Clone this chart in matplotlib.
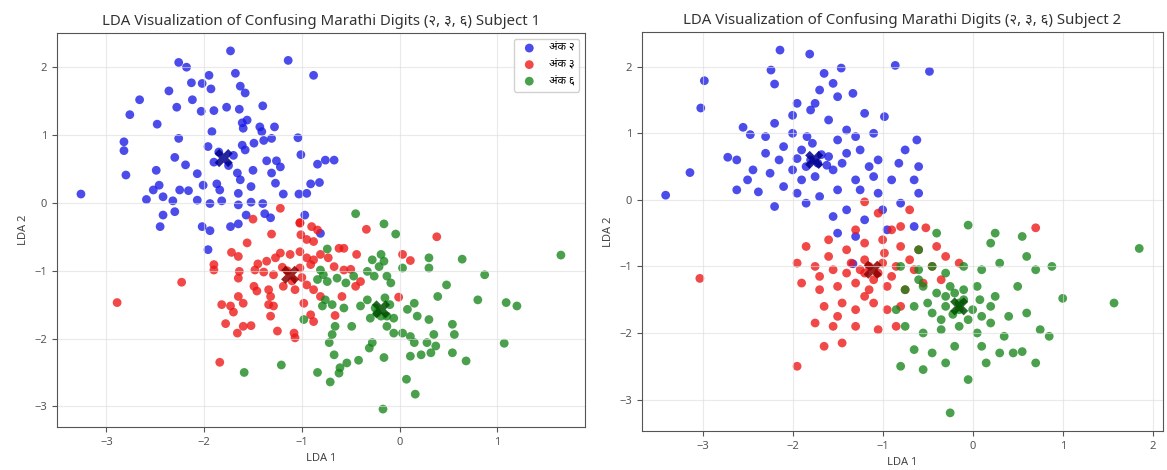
import matplotlib
matplotlib.use("Agg")
import matplotlib.pyplot as plt
import numpy as np

plt.rcParams['font.family'] = ['Noto Sans', 'DejaVu Sans']

labels = ['अंक २', 'अंक ३', 'अंक ६']
colors = ['#1a1ae6', '#ee1515', '#17851a']
dark = ['#00008b', '#8b0000', '#005000']
titles = ['LDA Visualization of Confusing Marathi Digits (२, ३, ६) Subject 1',
          'LDA Visualization of Confusing Marathi Digits (२, ३, ६) Subject 2']

# subject 1
s1_blue = [(-1.73, 2.24), (-1.14, 2.10), (-0.88, 1.88), (-2.26, 2.07), (-2.18, 2.00), (-1.95, 1.88),
           (-1.68, 1.91), (-2.13, 1.77), (-2.02, 1.76), (-1.93, 1.68), (-1.63, 1.72), (-1.58, 1.62),
           (-2.36, 1.65), (-2.66, 1.52), (-2.12, 1.52), (-2.28, 1.41), (-2.03, 1.35), (-1.90, 1.36),
           (-1.77, 1.41), (-1.64, 1.38), (-1.40, 1.43), (-2.76, 1.30), (-2.48, 1.16), (-1.61, 1.18),
           (-1.56, 1.22), (-1.60, 1.10), (-1.43, 1.12), (-1.41, 1.05), (-1.28, 1.12), (-1.92, 1.05),
           (-2.26, 0.95), (-2.82, 0.90), (-2.82, 0.77), (-1.61, 0.85), (-1.49, 0.88), (-1.39, 0.92),
           (-1.31, 0.95), (-1.04, 0.96), (-1.96, 0.83), (-1.58, 0.78), (-1.01, 0.71), (-2.30, 0.67),
           (-2.19, 0.56), (-1.36, 0.62), (-1.26, 0.62), (-1.22, 0.53), (-0.84, 0.57), (-2.80, 0.41),
           (-2.49, 0.48), (-2.07, 0.43), (-1.66, 0.44), (-1.50, 0.48), (-1.31, 0.44), (-2.01, 0.26),
           (-1.87, 0.28), (-1.63, 0.34), (-1.27, 0.29), (-0.91, 0.28), (-0.82, 0.30), (-2.46, 0.26),
           (-2.52, 0.19), (-2.25, 0.19), (-2.16, 0.18), (-1.84, 0.19), (-1.52, 0.24), (-3.26, 0.13),
           (-2.59, 0.05), (-2.42, 0.09), (-2.32, 0.03), (-2.07, 0.04), (-1.94, -0.01), (-1.82, 0.03),
           (-1.65, 0.14), (-1.65, -0.03), (-1.52, 0.01), (-1.40, -0.01), (-1.19, 0.13), (-1.03, 0.13),
           (-0.95, 0.14), (-2.30, -0.13), (-2.42, -0.18), (-1.57, -0.18), (-1.38, -0.16), (-1.32, -0.22),
           (-0.97, -0.18), (-2.45, -0.35), (-2.02, -0.35), (-1.73, -0.35), (-1.65, -0.31), (-1.94, -0.41),
           (-0.81, -0.45), (-1.96, -0.69), (-0.76, 0.63), (-0.67, 0.63), (-1.85, 0.75), (-1.75, 0.55),
           (-1.70, 0.70), (-1.90, 0.60)]
s1_red = [(-1.22, -0.08), (-1.50, -0.24), (-1.02, -0.29), (-1.02, -0.30), (-0.90, -0.35), (-0.84, -0.40),
          (-1.01, -0.47), (-0.95, -0.54), (-0.88, -0.57), (-1.31, -0.46), (-0.34, -0.39), (0.38, -0.50),
          (-1.56, -0.59), (-1.72, -0.73), (-1.65, -0.79), (-1.90, -0.91), (-1.90, -0.99), (-2.23, -1.17),
          (-1.45, -0.90), (-1.36, -0.86), (-1.27, -0.81), (-1.22, -0.74), (-1.12, -0.76), (-1.02, -0.72),
          (-0.95, -0.81), (-0.88, -0.84), (-0.81, -0.76), (-0.73, -0.81), (-0.62, -0.67), (-0.57, -0.67),
          (-0.44, -0.76), (0.03, -0.76), (0.11, -0.85), (-1.64, -1.01), (-1.65, -1.11), (-1.48, -0.99),
          (-1.39, -1.02), (-1.29, -1.06), (-1.02, -0.96), (-0.91, -0.91), (-0.67, -0.94), (-0.57, -0.99),
          (-0.50, -0.98), (-1.49, -1.23), (-1.46, -1.30), (-1.34, -1.28), (-1.32, -1.38), (-1.19, -1.23),
          (-1.07, -1.28), (-0.95, -1.21), (-0.88, -1.28), (-0.81, -1.38), (-0.59, -1.38), (-0.45, -1.23),
          (-0.40, -1.16), (-0.01, -1.39), (-1.82, -1.50), (-1.73, -1.52), (-1.65, -1.38), (-1.60, -1.48),
          (-1.70, -1.61), (-1.34, -1.50), (-1.29, -1.52), (-1.32, -1.67), (-0.98, -1.48), (-0.91, -1.65),
          (-0.88, -1.75), (-0.66, -1.66), (-1.78, -1.78), (-1.66, -1.92), (-1.60, -1.82), (-1.52, -1.81),
          (-1.25, -1.89), (-1.08, -1.92), (-1.07, -1.99), (-1.84, -2.35), (-2.89, -1.47),
          (-1.15, -1.00), (-1.10, -1.15), (-1.00, -1.10), (-1.20, -0.95)]
s1_green = [(-0.45, -0.16), (-0.16, -0.31), (-0.04, -0.46), (-0.74, -0.68), (-0.19, -0.76), (-0.28, -0.84),
            (-0.21, -0.94), (-0.16, -0.86), (-0.81, -0.99), (-0.78, -1.06), (-0.84, -1.13), (-0.74, -1.16),
            (-0.64, -1.11), (-0.55, -1.18), (-0.47, -1.08), (-0.33, -1.01), (-0.26, -1.08), (-0.13, -1.08),
            (-0.09, -1.18), (0.03, -0.96), (0.30, -0.81), (0.30, -0.96), (0.64, -0.83), (0.87, -1.06),
            (0.48, -1.21), (0.39, -1.38), (0.80, -1.43), (1.09, -1.47), (-0.76, -1.43), (-0.79, -1.52),
            (-0.69, -1.50), (-0.57, -1.55), (-0.40, -1.52), (-0.33, -1.43), (-0.23, -1.62), (-0.19, -1.67),
            (-0.13, -1.67), (-0.06, -1.70), (0.08, -1.57), (0.15, -1.48), (0.18, -1.67), (0.30, -1.72),
            (-0.98, -1.72), (-0.66, -1.82), (-0.69, -1.94), (-0.72, -2.06), (-0.49, -1.82), (-0.13, -1.82),
            (-0.06, -1.92), (0.03, -1.92), (0.11, -1.97), (0.15, -2.06), (0.35, -1.94), (0.28, -2.06),
            (0.37, -2.11), (0.54, -1.79), (0.56, -1.94), (1.07, -2.07), (-0.28, -2.06), (-0.31, -2.14),
            (-0.67, -2.24), (-0.42, -2.32), (-0.54, -2.36), (-0.61, -2.43), (-0.62, -2.51), (-0.16, -2.28),
            (0.11, -2.26), (0.22, -2.24), (0.32, -2.21), (0.54, -2.21), (0.68, -2.33), (-1.21, -2.39),
            (-1.59, -2.50), (-0.84, -2.50), (-0.71, -2.64), (0.07, -2.60), (0.16, -2.82), (-0.17, -3.04),
            (1.65, -0.77), (1.20, -1.52), (-0.25, -1.55), (-0.10, -1.50), (-0.30, -1.70), (-0.15, -1.40)]
s1_centroids = [(-1.80, 0.66), (-1.12, -1.06), (-0.19, -1.57)]

# subject 2
s2_blue = [(-2.14, 2.25), (-1.81, 2.19), (-2.24, 1.95), (-1.46, 1.98), (-0.86, 2.02), (-0.48, 1.93),
           (-1.65, 1.90), (-2.98, 1.79), (-2.20, 1.74), (-1.55, 1.75), (-1.70, 1.65), (-3.02, 1.38),
           (-1.75, 1.45), (-1.50, 1.55), (-1.33, 1.60), (-1.95, 1.45), (-2.00, 1.27), (-1.80, 1.35),
           (-1.60, 1.20), (-1.20, 1.30), (-0.98, 1.25), (-2.20, 1.15), (-2.55, 1.09), (-2.47, 0.98),
           (-2.00, 1.00), (-1.84, 0.95), (-1.50, 0.90), (-1.30, 0.95), (-1.10, 1.00), (-0.62, 0.90),
           (-2.72, 0.64), (-2.62, 0.60), (-2.30, 0.70), (-2.10, 0.80), (-1.90, 0.75), (-1.60, 0.65),
           (-1.40, 0.70), (-1.25, 0.75), (-1.05, 0.60), (-0.82, 0.55), (-0.60, 0.50), (-3.14, 0.41),
           (-2.44, 0.45), (-2.25, 0.40), (-2.00, 0.45), (-1.75, 0.35), (-1.55, 0.45), (-1.30, 0.30),
           (-1.10, 0.35), (-0.90, 0.30), (-0.65, 0.30), (-3.41, 0.07), (-2.62, 0.15), (-2.38, 0.12),
           (-2.10, 0.20), (-1.95, 0.10), (-1.70, 0.05), (-1.50, 0.15), (-1.25, 0.15), (-1.05, 0.10),
           (-0.60, 0.10), (-2.20, -0.10), (-1.85, -0.05), (-1.55, -0.25), (-1.40, -0.15), (-1.20, -0.30),
           (-0.80, -0.05), (-0.65, -0.40), (-1.50, -0.50), (-1.30, -0.55), (-0.95, -0.45), (-1.33, -0.96),
           (-1.80, 0.60), (-1.72, 0.55), (-1.85, 0.50), (-1.68, 0.68), (-1.95, 0.62), (-1.62, 0.52),
           (-2.15, 0.60), (-1.45, 0.55), (-1.78, 0.85), (-1.40, 1.05), (-2.30, 0.95), (-1.90, 0.30),
           (-1.15, 0.50), (-0.75, 0.75), (-2.50, 0.30), (-1.00, -0.15)]
s2_red = [(-3.03, -1.18), (-1.95, -2.50), (0.70, -0.42), (-1.20, -0.03), (-1.05, -0.20), (-0.70, -0.15),
          (-0.52, -0.42), (-1.30, -0.45), (-0.90, -0.45), (-1.85, -0.70), (-1.60, -0.60), (-1.40, -0.75),
          (-1.20, -0.65), (-1.00, -0.60), (-0.80, -0.70), (-0.60, -0.75), (-0.40, -0.70), (-1.95, -0.95),
          (-1.75, -1.00), (-1.55, -1.05), (-1.35, -0.95), (-1.20, -0.90), (-1.00, -0.95), (-0.85, -1.00),
          (-0.65, -1.05), (-0.45, -1.00), (-1.90, -1.25), (-1.70, -1.35), (-1.50, -1.30), (-1.30, -1.25),
          (-1.15, -1.35), (-0.95, -1.30), (-0.75, -1.35), (-0.55, -1.25), (-1.65, -1.60), (-1.45, -1.55),
          (-1.30, -1.65), (-1.10, -1.55), (-0.95, -1.65), (-0.80, -1.60), (-1.75, -1.85), (-1.55, -1.90),
          (-1.30, -1.90), (-1.05, -1.95), (-0.85, -1.90), (-1.45, -2.15), (-1.65, -2.20), (-0.30, -0.85),
          (-0.15, -0.95), (-0.35, -1.20), (-1.15, -1.00), (-1.05, -1.10), (-1.20, -1.10), (-0.98, -0.80),
          (-1.10, -1.20), (-1.25, -1.05), (-0.90, -1.15), (-1.40, -1.10), (-1.60, -0.85), (-0.70, -0.90),
          (-1.50, -1.75), (-1.20, -1.45), (-0.80, -0.40), (-1.70, -1.15)]
s2_green = [(-0.05, -0.38), (0.25, -0.50), (0.55, -0.55), (-0.40, -0.50), (-0.60, -0.75), (0.20, -0.65),
            (-0.80, -1.00), (-0.60, -1.05), (-0.45, -1.00), (-0.30, -1.10), (-0.10, -1.00), (0.10, -1.05),
            (0.30, -0.95), (0.70, -1.05), (0.88, -1.00), (0.60, -0.85), (-0.75, -1.35), (-0.55, -1.30),
            (-0.40, -1.40), (-0.25, -1.30), (-0.10, -1.35), (0.05, -1.30), (0.25, -1.45), (0.50, -1.30),
            (1.00, -1.48), (-0.85, -1.65), (-0.65, -1.60), (-0.45, -1.70), (-0.30, -1.60), (-0.15, -1.55),
            (0.00, -1.65), (0.20, -1.60), (0.40, -1.75), (0.60, -1.70), (-0.75, -1.90), (-0.55, -2.00),
            (-0.35, -1.95), (-0.15, -1.90), (0.05, -2.00), (0.20, -1.85), (0.35, -2.05), (0.75, -1.95),
            (0.85, -2.05), (-0.65, -2.25), (-0.45, -2.30), (-0.20, -2.20), (0.10, -2.20), (0.30, -2.30),
            (0.45, -2.30), (0.55, -2.28), (-0.80, -2.50), (-0.55, -2.55), (-0.30, -2.45), (-0.05, -2.70),
            (0.15, -2.45), (0.70, -2.45), (-0.25, -3.20), (1.57, -1.55), (1.85, -0.73), (-0.15, -1.65),
            (-0.10, -1.50), (-0.22, -1.72), (-0.05, -1.80), (-0.30, -1.45), (-0.20, -1.40), (0.08, -1.50),
            (-0.50, -1.55), (-0.35, -1.80), (0.10, -1.75), (-0.60, -1.20)]
s2_centroids = [(-1.76, 0.60), (-1.11, -1.05), (-0.15, -1.60)]

subjects = [[s1_blue, s1_red, s1_green], [s2_blue, s2_red, s2_green]]
centroids = [s1_centroids, s2_centroids]

fig = plt.figure(figsize=(11.67, 4.70), dpi=100)
rects = [[0.0488, 0.0915, 0.4524, 0.8383], [0.5501, 0.083, 0.4464, 0.849]]

for i in range(2):
    ax = fig.add_axes(rects[i])
    for j in range(3):
        pts = np.array(subjects[i][j])
        ax.scatter(pts[:, 0], pts[:, 1], s=40, c=colors[j], alpha=0.78,
                   edgecolors='none', label=labels[j])
        c = centroids[i][j]
        ax.scatter(c[0], c[1], s=170, marker='X', c=dark[j], edgecolors='none', alpha=0.85)
    ax.set_title(titles[i], fontsize=10.8, color='#333333')
    ax.set_xlabel('LDA 1', fontsize=8, color='#444444')
    ax.set_ylabel('LDA 2', fontsize=8, color='#444444')
    ax.tick_params(labelsize=8, colors='#555555')
    ax.grid(True, color='#dddddd', alpha=0.6, linewidth=0.8)
    for sp in ax.spines.values():
        sp.set_color('#555555')
    if i == 0:
        ax.legend(loc='upper right', fontsize=8, framealpha=0.9)

fig.savefig('out.png', dpi=100)
